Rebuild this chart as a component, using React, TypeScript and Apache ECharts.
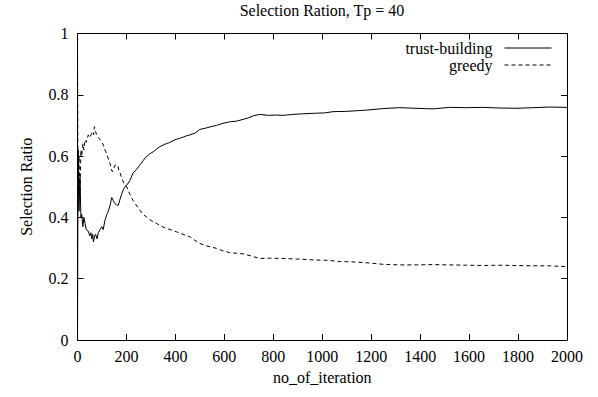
import React, { useEffect, useRef } from "react";
import * as echarts from "echarts";

const titleText = "Selection Ration, Tp = 40";
const xName = "no_of_iteration";
const yName = "Selection Ratio";
const seriesNames = ["trust-building", "greedy"];

const trustBuilding: [number, number][] = [
  [0, 0], [2, 0.55], [4, 0.62], [6, 0.42], [10, 0.53], [14, 0.4], [17, 0.41], [22, 0.37], [26, 0.4],
  [31, 0.38], [36, 0.36], [44, 0.355], [50, 0.34], [55, 0.35], [58, 0.33], [62, 0.345], [65, 0.32],
  [70, 0.34], [74, 0.345], [80, 0.33], [85, 0.35], [92, 0.36], [99, 0.37], [105, 0.36], [112, 0.39],
  [120, 0.41], [126, 0.42], [133, 0.44], [140, 0.465], [146, 0.455], [153, 0.445], [160, 0.44],
  [167, 0.44], [174, 0.46], [180, 0.475], [187, 0.49], [194, 0.5], [201, 0.505], [214, 0.52],
  [227, 0.545], [240, 0.555], [254, 0.57], [268, 0.585], [281, 0.598], [295, 0.607], [309, 0.614],
  [322, 0.622], [336, 0.631], [350, 0.636], [363, 0.641], [376, 0.644], [390, 0.65], [404, 0.655],
  [418, 0.658], [432, 0.662], [445, 0.666], [459, 0.669], [480, 0.675], [500, 0.687], [527, 0.692],
  [550, 0.697], [568, 0.7], [590, 0.706], [622, 0.712], [650, 0.714], [677, 0.72], [700, 0.725],
  [720, 0.732], [745, 0.736], [780, 0.733], [810, 0.734], [840, 0.733], [880, 0.736], [920, 0.738],
  [976, 0.74], [1010, 0.741], [1044, 0.745], [1100, 0.746], [1140, 0.748], [1180, 0.75], [1248, 0.755],
  [1316, 0.758], [1380, 0.756], [1452, 0.754], [1520, 0.759], [1590, 0.758], [1656, 0.759],
  [1720, 0.757], [1792, 0.756], [1860, 0.758], [1928, 0.76], [2000, 0.759],
];

const greedy: [number, number][] = [
  [0, 1], [2, 0.45], [4, 0.55], [6, 0.6], [10, 0.47], [14, 0.62], [17, 0.6], [22, 0.64], [26, 0.62],
  [31, 0.653], [36, 0.645], [44, 0.669], [50, 0.66], [58, 0.675], [62, 0.68], [66, 0.67], [69, 0.696],
  [74, 0.68], [78, 0.67], [85, 0.66], [92, 0.655], [99, 0.645], [106, 0.636], [112, 0.62], [119, 0.609],
  [126, 0.59], [133, 0.576], [138, 0.56], [142, 0.549], [148, 0.56], [153, 0.57], [158, 0.572],
  [164, 0.571], [170, 0.55], [174, 0.545], [180, 0.53], [187, 0.516], [194, 0.505], [201, 0.5],
  [214, 0.475], [227, 0.455], [240, 0.44], [254, 0.424], [268, 0.41], [281, 0.402], [300, 0.39],
  [322, 0.381], [340, 0.372], [363, 0.364], [380, 0.36], [404, 0.353], [430, 0.345], [459, 0.337],
  [480, 0.325], [500, 0.315], [527, 0.307], [568, 0.299], [590, 0.292], [622, 0.285], [650, 0.283],
  [677, 0.281], [710, 0.274], [745, 0.266], [790, 0.267], [840, 0.266], [900, 0.264], [976, 0.261],
  [1020, 0.26], [1071, 0.256], [1120, 0.255], [1180, 0.252], [1248, 0.247], [1316, 0.245],
  [1384, 0.245], [1450, 0.246], [1520, 0.245], [1590, 0.244], [1656, 0.243], [1720, 0.244],
  [1792, 0.243], [1860, 0.242], [1928, 0.242], [2000, 0.239],
];

const FONT = "'Liberation Serif', 'Times New Roman', serif";
const FS = 16;

export default function App() {
  const ref = useRef<HTMLDivElement>(null);
  useEffect(() => {
    if (!ref.current) return;
    const chart = echarts.init(ref.current, undefined, { renderer: "svg" });
    const axisCommon = {
      axisLine: { show: true, onZero: false, lineStyle: { color: "#000", width: 1 } },
      axisTick: { show: true, inside: true, length: 6, lineStyle: { color: "#000" } },
      splitLine: { show: false },
    };
    const legendCommon = {
      orient: "horizontal",
      right: 46,
      align: "right",
      itemWidth: 47,
      itemHeight: 10,
      padding: 0,
      textStyle: { fontFamily: FONT, fontSize: FS, color: "#000", padding: [0, 7, 0, 0] },
      itemStyle: { opacity: 0 },
      lineStyle: { width: 1 },
    };
    const textStyle = { fontFamily: FONT, fontSize: FS, color: "#000" };
    chart.setOption({
      animation: false,
      backgroundColor: "#fff",
      title: {
        text: titleText,
        left: 322,
        textAlign: "center",
        top: 0,
        padding: [2, 0, 0, 0],
        textStyle: { ...textStyle, fontWeight: "normal" },
      },
      legend: [
        { ...legendCommon, top: 40, data: [seriesNames[0]] },
        { ...legendCommon, top: 57, data: [seriesNames[1]] },
      ],
      grid: { left: 77.5, right: 31, top: 33.5, bottom: 57 },
      xAxis: [
        {
          type: "value",
          min: 0,
          max: 2000,
          interval: 200,
          name: xName,
          nameLocation: "middle",
          nameGap: 29,
          nameTextStyle: textStyle,
          axisLabel: { ...textStyle, margin: 8, formatter: (v: number) => String(v) },
          ...axisCommon,
        },
        {
          type: "value",
          position: "top",
          min: 0,
          max: 2000,
          interval: 200,
          axisLabel: { show: false },
          ...axisCommon,
        },
      ],
      yAxis: [
        {
          type: "value",
          min: 0,
          max: 1,
          interval: 0.2,
          name: yName,
          nameLocation: "middle",
          nameGap: 43,
          nameRotate: 90,
          nameTextStyle: textStyle,
          axisLabel: { ...textStyle, margin: 9 },
          ...axisCommon,
        },
        {
          type: "value",
          position: "right",
          min: 0,
          max: 1,
          interval: 0.2,
          axisLabel: { show: false },
          ...axisCommon,
        },
      ],
      series: [
        {
          name: seriesNames[0],
          type: "line",
          data: trustBuilding,
          showSymbol: false,
          symbol: "none",
          lineStyle: { color: "#000", width: 1, type: "solid" },
          itemStyle: { color: "#000" },
        },
        {
          name: seriesNames[1],
          type: "line",
          data: greedy,
          showSymbol: false,
          symbol: "none",
          lineStyle: { color: "#000", width: 1, type: [4, 3] },
          itemStyle: { color: "#000" },
        },
      ],
    });
    return () => chart.dispose();
  }, []);
  return <div ref={ref} style={{ width: 598, height: 397, position: "absolute", left: 0, top: 0 }} />;
}
